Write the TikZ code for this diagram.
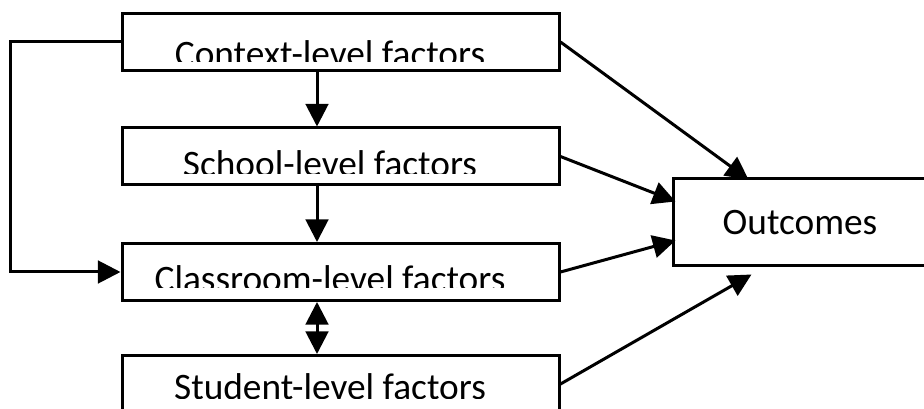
\documentclass[tikz,border=0pt]{standalone}
\usepackage{fontspec}
\setmainfont{Carlito}
\usetikzlibrary{arrows.meta,calc}

\tikzset{every picture/.style={line width=2.25pt}}
\tikzset{
	factor/.style={draw, line width=2.25pt, minimum width=327.75pt, minimum height=42.75pt, inner sep=0pt},
	outbox/.style={draw, line width=2.25pt, minimum width=190.5pt, minimum height=65.25pt, inner sep=0pt, font=\fontsize{28}{34}\selectfont},
	facttext/.style={anchor=base, inner sep=0pt, font=\fontsize{28}{34}\selectfont},
	link/.style={-{Triangle[length=17pt,width=17pt]}, line width=2.25pt},
	twoway/.style={{Triangle[length=17pt,width=17pt]}-{Triangle[length=17pt,width=17pt]}, line width=2.25pt},
}

\begin{document}
\begin{tikzpicture}[x=0.75pt,y=0.75pt,yscale=-1,xscale=1]
		\useasboundingbox (0,0) rectangle (924,409);
		\clip (0,0) rectangle (924,409);
		
		%Boxes
		\node [factor] (ctx) at (340.5,42) {};
		\node [factor] (school) at (340.5,156.5) {};
		\node [factor] (class) at (340.5,272) {};
		\node [factor] (student) at (340.5,384) {};
		\node [outbox] (out) at (800,222.5) {Outcomes};
		\coordinate (spine) at (317,0);
		
		% Text Nodes (cut off at the bottom as printed)
		\begin{scope}
			\clip (ctx.north west) rectangle ($(ctx.south east)+(0,-10)$);
			\node [facttext] (ctxtext) at (330,67) {Context-level factors};
		\end{scope}
		\begin{scope}
			\clip (school.north west) rectangle ($(school.south east)+(0,-13)$);
			\node [facttext] (schooltext) at (330,177) {School-level factors};
		\end{scope}
		\begin{scope}
			\clip (class.north west) rectangle ($(class.south east)+(0,-14)$);
			\node [facttext] (classtext) at (330,292) {Classroom-level factors};
		\end{scope}
		\begin{scope}
			\clip (student.north west) rectangle (559,398);
			\node [facttext] (studenttext) at (330,399) {Student-level factors};
		\end{scope}
		
		%Vertical links
		\draw [link] (spine |- ctx.south) -- (spine |- school.north);
		\draw [link] (spine |- school.south) -- (spine |- class.north);
		\draw [twoway] (spine |- class.south) -- (spine |- student.north);
		%Side loop
		\draw [link] (ctx.west) -- ++(-110,0) |- (class.west);
		
		%Links to outcomes
		\draw [link] (ctx.east) -- ($(out.north west)+(77,2)$);
		\draw [link] (school.east) -- ($(out.west)+(4,-21)$);
		\draw [link] (class.east) -- ($(out.west)+(4,18)$);
		\draw [link] (student.east) -- ($(out.south west)+(80,7)$);
		
	\end{tikzpicture}
\end{document}
